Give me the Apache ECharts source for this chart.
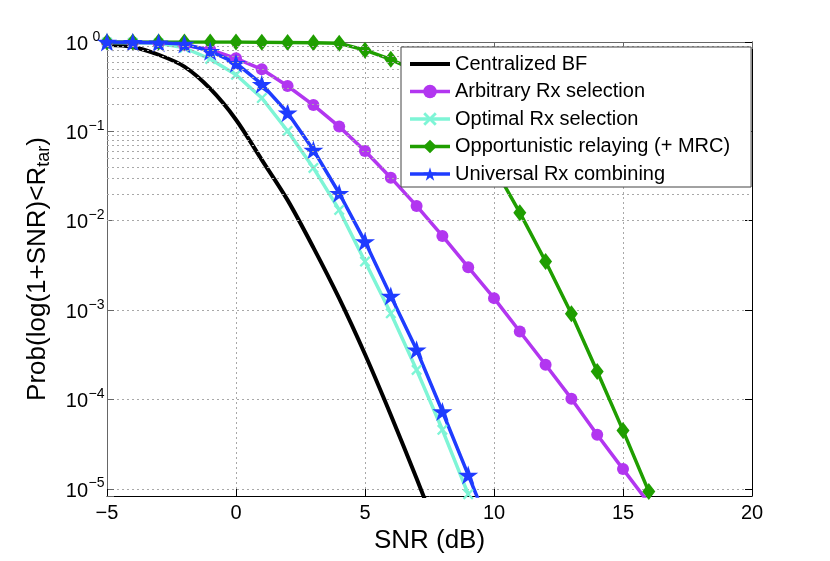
<!DOCTYPE html>
<html>
<head>
<meta charset="utf-8">
<script src="https://cdn.jsdelivr.net/npm/echarts@6/dist/echarts.min.js"></script>
<style>html,body{margin:0;padding:0;background:#fff}#c{width:830px;height:561px}</style>
</head>
<body>
<div id="c"></div>
<script>
const snr = [-5,-4,-3,-2,-1,0,1,2,3,4,5,6,7,8,9,10,11,12,13,14,15,16];
const seriesNames = ['Centralized BF','Arbitrary Rx selection','Optimal Rx selection','Opportunistic relaying (+ MRC)','Universal Rx combining'];
const centralizedBF = [0.93,0.88,0.72,0.53,0.30,0.135,0.048,0.017,0.0050,1.35e-3,3.2e-4,6.7e-5,1.3e-5,2.4e-6];
const arbitrarySel = [0.995,0.99,0.97,0.92,0.82,0.657,0.495,0.322,0.197,0.113,0.0604,0.0303,0.01465,6.76e-3,3.02e-3,1.36e-3,5.75e-4,2.44e-4,1.02e-4,4.02e-5,1.66e-5,6.9e-6];
const optimalSel = [0.99,0.98,0.97,0.86,0.645,0.43,0.236,0.101,0.039,0.0132,3.49e-3,9.2e-4,2.14e-4,4.57e-5,8.7e-6];
const opportunistic = [0.999,0.999,0.999,0.999,0.998,0.997,0.995,0.99,0.98,0.967,0.81,0.64,0.47,0.28,0.12,0.04,0.0123,3.5e-3,9.1e-4,2.05e-4,4.5e-5,9.3e-6];
const universal = [0.999,0.995,0.98,0.95,0.79,0.58,0.337,0.162,0.062,0.0203,5.84e-3,1.44e-3,3.59e-4,7.33e-5,1.43e-5,2.8e-6];
const xTicks = [-5,0,5,10,15,20];

const FONT = 'Liberation Sans';
const yMin = 8.3e-6, yMax = 1;
const pairs = arr => arr.map((v,i)=>[snr[i], v]);

const minorGrid = [];
for (let e = -6; e < 0; e++) {
  for (let k = 2; k <= 9; k++) {
    const v = k * Math.pow(10, e);
    if (v > yMin && v < yMax) minorGrid.push({yAxis: v});
  }
}

const starPath = 'path://M50,0L61.23,34.55L97.55,34.55L68.17,55.9L79.39,90.45L50,69.1L20.61,90.45L31.83,55.9L2.45,34.55L38.77,34.55Z';
const xPath = 'path://M1.5,0L5,3.5L8.5,0L10,1.5L6.5,5L10,8.5L8.5,10L5,6.5L1.5,10L0,8.5L3.5,5L0,1.5Z';

const supFmt = v => {
  const l = Math.log10(v);
  const e = Math.round(l);
  if (Math.abs(l - e) > 1e-6) return '';
  return '{b|10}{s|' + (e < 0 ? '\u2212' + (-e) : String(e)) + '}';
};

const dotted = {color:'#a8a8a8', type:[2,3], width:1};

const chart = echarts.init(document.getElementById('c'));
chart.setOption({
  animation: false,
  backgroundColor: '#fff',
  textStyle: {fontFamily: FONT},
  grid: {left:107, right:78, top:42, bottom:65, containLabel:false},
  legend: {
    z: 20, zlevel: 0,
    orient:'vertical', left:401, top:47,
    itemWidth:40, itemHeight:17, itemGap:7.5,
    padding:[7,21,3,7],
    backgroundColor:'#fff', borderColor:'#444', borderWidth:1,
    lineStyle:{width:3.5},
    textStyle:{fontSize:20, fontFamily:FONT, color:'#000'},
    data: [
      {name: seriesNames[0], itemStyle:{opacity:0}, lineStyle:{width:4}},
      seriesNames[1], seriesNames[2], seriesNames[3], seriesNames[4]
    ]
  },
  xAxis: [{
    type:'value', min:-5, max:20, interval:5,
    name:'SNR (dB)', nameLocation:'middle', nameGap:27,
    nameTextStyle:{fontSize:26, fontFamily:FONT, color:'#000'},
    axisLine:{show:true, onZero:false, lineStyle:{color:'#000', width:1}},
    axisTick:{show:true, inside:true, length:7, lineStyle:{color:'#000'}},
    axisLabel:{fontSize:20, fontFamily:FONT, color:'#000', margin:7,
      formatter: v => (v < 0 ? '\u2212' + (-v) : String(v))},
    splitLine:{show:true, lineStyle:dotted}
  },{
    type:'value', position:'top', min:-5, max:20, interval:5,
    axisLine:{show:true, onZero:false, lineStyle:{color:'#666', width:1}},
    axisTick:{show:true, inside:true, length:7, lineStyle:{color:'#666'}},
    axisLabel:{show:false}, splitLine:{show:false}
  }],
  yAxis: [{
    type:'log', logBase:10, min:yMin, max:yMax,
    name:'{m|Prob(log(1+SNR)<R}{sub|tar}{m|)}', nameLocation:'middle', nameGap:54,
    nameTextStyle:{fontSize:26, fontFamily:FONT, color:'#000',
      rich:{
        m:{fontSize:26, fontFamily:FONT, color:'#000', verticalAlign:'top'},
        sub:{fontSize:18, fontFamily:FONT, color:'#000', verticalAlign:'bottom', padding:[10.5,0,0,0]}
      }},
    axisLine:{show:true, onZero:false, lineStyle:{color:'#666', width:1}},
    axisTick:{show:true, inside:true, length:7, lineStyle:{color:'#666'}},
    axisLabel:{fontSize:20, fontFamily:FONT, color:'#000', margin:2, formatter: supFmt,
      rich:{
        b:{fontSize:20, fontFamily:FONT, color:'#000', verticalAlign:'bottom'},
        s:{fontSize:14, fontFamily:FONT, color:'#000', verticalAlign:'top', padding:[0,0,10.5,0], width:17, align:'left'}
      }},
    splitLine:{show:true, lineStyle:dotted}
  },{
    type:'log', logBase:10, min:yMin, max:yMax, position:'right',
    axisLine:{show:true, onZero:false, lineStyle:{color:'#000', width:1}},
    axisTick:{show:true, inside:true, length:7, lineStyle:{color:'#000'}},
    axisLabel:{show:false}, splitLine:{show:false}
  }],
  series: [
    {
      name: seriesNames[0], type:'line', data: pairs(centralizedBF),
      showSymbol:false, symbol:'none', smooth:0.3, clip:true,
      lineStyle:{color:'#000', width:4}, itemStyle:{color:'#000'},
      markLine:{silent:true, symbol:'none', label:{show:false}, animation:false,
        lineStyle:dotted, emphasis:{disabled:true}, data: minorGrid}
    },
    {
      name: seriesNames[1], type:'line', data: pairs(arbitrarySel), clip:true,
      symbol:'circle', symbolSize:12,
      lineStyle:{color:'#b236f0', width:3.5}, itemStyle:{color:'#b236f0'}
    },
    {
      name: seriesNames[2], type:'line', data: pairs(optimalSel), clip:true,
      symbol:xPath, symbolSize:11,
      lineStyle:{color:'#7ef5d6', width:3.5}, itemStyle:{color:'#7ef5d6'}
    },
    {
      name: seriesNames[3], type:'line', data: pairs(opportunistic), clip:true,
      symbol:'diamond', symbolSize:[13,17],
      lineStyle:{color:'#1f9e00', width:3.5}, itemStyle:{color:'#1f9e00'}
    },
    {
      name: seriesNames[4], type:'line', data: pairs(universal), clip:true,
      symbol:starPath, symbolSize:[20,19],
      lineStyle:{color:'#1f3cff', width:3.5}, itemStyle:{color:'#1f3cff'}
    }
  ]
});
</script>
</body>
</html>
